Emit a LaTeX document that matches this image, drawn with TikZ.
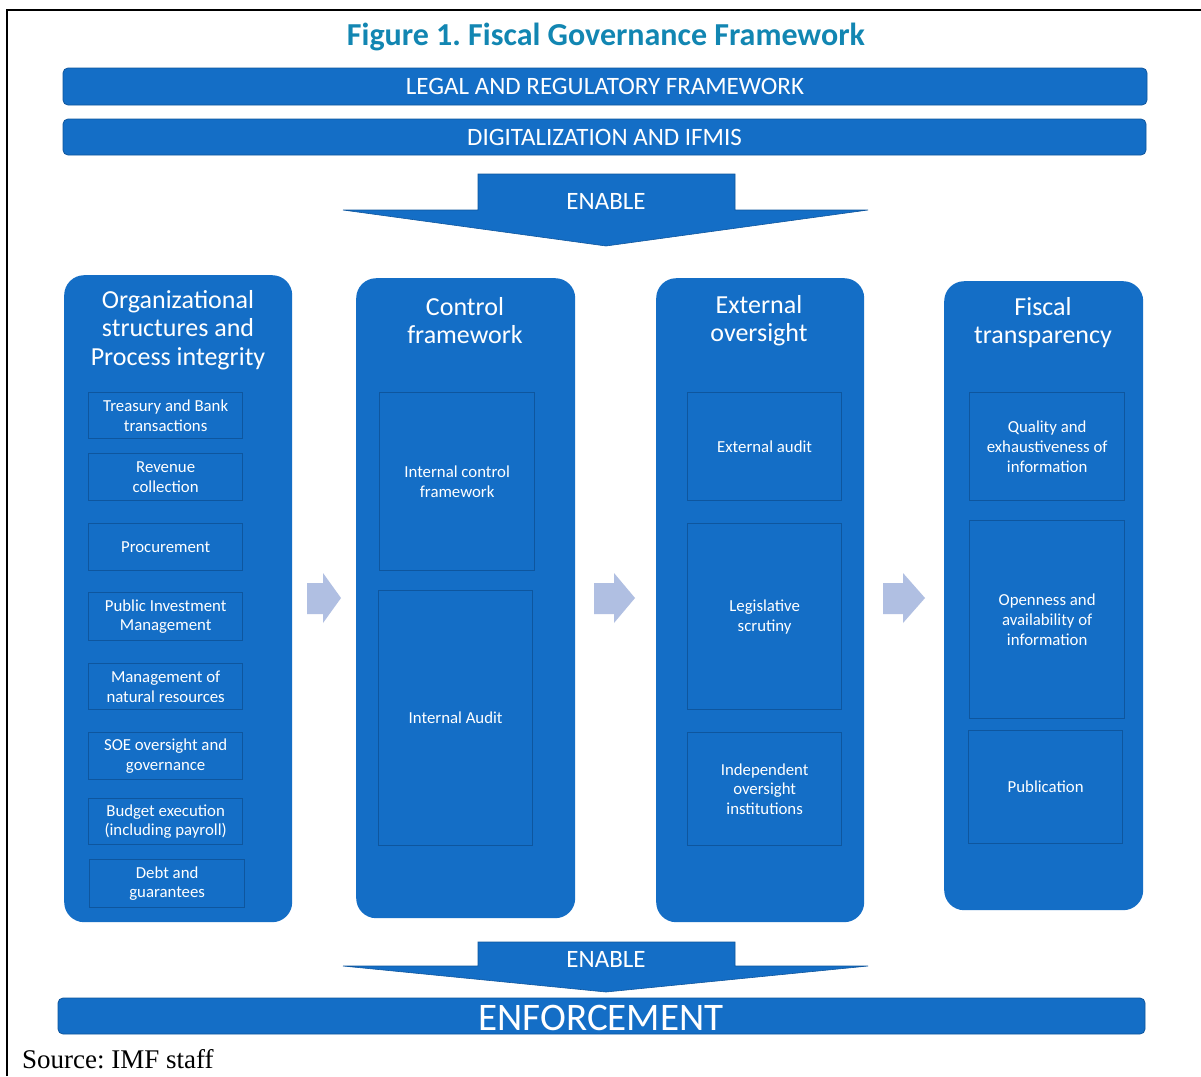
\documentclass[tikz,border=0pt]{standalone}
\usepackage{fontspec}
\setmainfont{Carlito}
\newfontfamily\srcfont{Liberation Serif}
\definecolor{mainblue}{RGB}{20,110,198}
\definecolor{edgeblue}{RGB}{14,86,158}
\definecolor{titleteal}{RGB}{18,134,178}
\definecolor{arrowgrey}{RGB}{176,191,226}
\tikzset{
  bar/.style={fill=mainblue, draw=edgeblue, line width=0.8, rounded corners=5, text=white, inner sep=0},
  column/.style={fill=mainblue, rounded corners=20, anchor=north west, inner sep=0},
  subbox/.style={draw=edgeblue, line width=1.3, fill=mainblue, anchor=north west, text=white,
     font=\fontsize{16.8}{19.8}\selectfont, align=center, inner sep=0},
  header/.style={text=white, font=\fontsize{26}{28.5}\selectfont, align=center, inner sep=0},
  enablearrow/.style={fill=mainblue, draw=edgeblue, line width=0.6},
  colarrow/.style={fill=arrowgrey},
  bartext/.style={text=white, font=\fontsize{25}{28}\selectfont, inner sep=0}
}
\frenchspacing
\begin{document}
\begin{tikzpicture}[x=1pt,y=-1pt]
\useasboundingbox (0,0) rectangle (1201,1076);
\fill[white] (0,0) rectangle (1201,1076);
\draw[line width=2] (7,1076) -- (7,10) -- (1201,10);

% title
\node[anchor=base, text=titleteal, font=\fontsize{32}{36}\selectfont\bfseries, inner sep=0] (title) at (606,45) {Figure 1. Fiscal Governance Framework};

% top bars
\node[bar, minimum width=1084, minimum height=37] (legal) at (605,86.5) {};
\node[bartext] at (legal) {LEGAL AND REGULATORY FRAMEWORK};
\node[bar, minimum width=1083, minimum height=36] (digi) at (604.5,137) {};
\node[bartext] at (digi) {DIGITALIZATION AND IFMIS};

% top enable arrow
\path[enablearrow] (478,174) -- (735,174) -- (735,210) -- (868,210) -- (606,246) -- (343,210) -- (478,210) -- cycle;
\node[bartext] (enable1) at (606,201) {ENABLE};

% columns
\node[column, minimum width=228, minimum height=647] (c1) at (64,275) {};
\node[column, minimum width=219, minimum height=640] (c2) at (356,278) {};
\node[column, minimum width=208, minimum height=644] (c3) at (656,278) {};
\node[column, minimum width=199, minimum height=629] (c4) at (944,281) {};

% headers
\node[header] (h1) at (178,330) {Organizational\\structures and\\Process integrity};
\node[header] (h2) at (465,320.5) {Control\\framework};
\node[header] (h3) at (759,320.5) {External\\oversight};
\node[header] (h4) at (1043,322.5) {Fiscal\\transparency};

% column 1 boxes
\node[subbox, minimum width=154, minimum height=46] (b11) at (88,392) {Treasury and Bank\\transactions};
\node[subbox, minimum width=154, minimum height=47] (b12) at (88,453) {Revenue\\collection};
\node[subbox, minimum width=154, minimum height=47] (b13) at (88,523) {Procurement};
\node[subbox, minimum width=154, minimum height=48] (b14) at (88,592) {Public Investment\\Management};
\node[subbox, minimum width=154, minimum height=46] (b15) at (88,663) {Management of\\natural resources};
\node[subbox, minimum width=154, minimum height=47] (b16) at (88,732) {SOE oversight and\\governance};
\node[subbox, minimum width=154, minimum height=46] (b17) at (88,798) {Budget execution\\(including payroll)};
\node[subbox, minimum width=155, minimum height=48] (b18) at (89,859) {Debt and\\guarantees};

% column 2 boxes
\node[subbox, minimum width=155, minimum height=178] (b21) at (379,392) {Internal control\\framework};
\node[subbox, minimum width=154, minimum height=255] (b22) at (378,590) {Internal Audit};

% column 3 boxes
\node[subbox, minimum width=154, minimum height=108] (b31) at (687,392) {External audit};
\node[subbox, minimum width=154, minimum height=186] (b32) at (687,523) {Legislative\\scrutiny};
\node[subbox, minimum width=154, minimum height=113] (b33) at (687,732) {Independent\\oversight\\institutions};

% column 4 boxes
\node[subbox, minimum width=155, minimum height=108] (b41) at (969,392) {Quality and\\exhaustiveness of\\information};
\node[subbox, minimum width=155, minimum height=198] (b42) at (969,520) {Openness and\\availability of\\information};
\node[subbox, minimum width=154, minimum height=113] (b43) at (968,730) {Publication};

% arrows between columns
\path[colarrow] (307,583) -- (323,583) -- (323,573) -- (341,598) -- (323,623) -- (323,614) -- (307,614) -- cycle;
\path[colarrow] (594,583) -- (614,583) -- (614,573) -- (635,598) -- (614,623) -- (614,614) -- (594,614) -- cycle;
\path[colarrow] (883,583) -- (903,583) -- (903,573) -- (925,598) -- (903,623) -- (903,614) -- (883,614) -- cycle;

% bottom enable arrow
\path[enablearrow] (478,942) -- (735,942) -- (735,966) -- (868,966) -- (606,992) -- (343,966) -- (478,966) -- cycle;
\node[bartext] (enable2) at (606,959) {ENABLE};

% enforcement bar
\node[bar, minimum width=1087, minimum height=36] (enf) at (601.5,1016) {};
\node[text=white, font=\fontsize{39}{42}\selectfont, inner sep=0] at (601,1018) {ENFORCEMENT};

% source
\node[anchor=base west, font=\srcfont\fontsize{27}{30}\selectfont, inner sep=0] (src) at (22,1068) {Source: IMF staff};
\end{tikzpicture}
\end{document}
